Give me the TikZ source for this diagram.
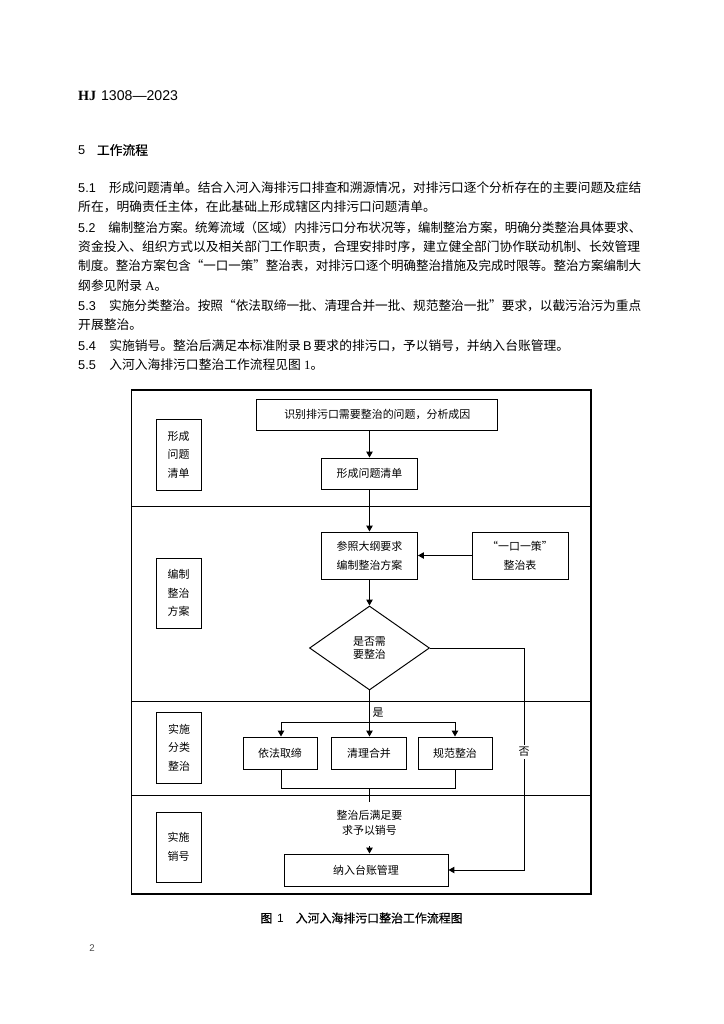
\documentclass[tikz,border=0pt]{standalone}
\usepackage{fontspec}
\usepackage{graphicx}
\setmainfont{Noto Sans CJK SC}
\newfontfamily\hjserif{Liberation Serif}
\newfontfamily\arial{Liberation Sans}
\newfontfamily\heiti[FakeBold=0.6]{Noto Sans CJK SC}
\usetikzlibrary{shapes.geometric,arrows.meta}
\XeTeXlinebreaklocale "zh"
\XeTeXlinebreakskip=0pt plus 3pt minus 2pt
\newdimen\pxu \pxu=0.82221pt
\newdimen\linew \linew=563\pxu
\def\pxl{0.82221pt}
\newsavebox\lbox
\newcommand\bodyfont{\fontsize{10.5pt}{12pt}\selectfont}
\newcommand\fcfont{\fontsize{9pt}{15.4pt}\selectfont}
\newcommand\fitline[1]{\sbox\lbox{#1}\ifdim\wd\lbox>\linew\resizebox{\linew}{\height}{\usebox\lbox}\else\makebox[\linew][s]{#1}\fi}
\newcommand\numline[2]{\fitline{{\arial #1}\hspace{11pt}#2}}
\newcommand\fullline[1]{\fitline{#1}}
\begin{document}
\begin{tikzpicture}[x=0.82221pt,y=-0.82221pt,
  txt/.style={anchor=west, inner sep=0pt, font=\bodyfont},
  box/.style={draw, line width=0.8pt, inner sep=0pt, align=center, font=\fcfont},
  lbl/.style={box, minimum width=45*\pxl, font=\fontsize{9pt}{15.2pt}\selectfont},
  frame/.style={line width=1.1pt},
  conn/.style={line width=0.8pt},
  arr/.style={conn, -{Triangle[length=4.8pt,width=5.2pt]}}]
\useasboundingbox (0,0) rectangle (724,1024);
% header
\node[anchor=west, inner sep=0pt, font=\fontsize{11.6pt}{13pt}\selectfont] (hdr) at (78,96)
  {{\hjserif\bfseries HJ}\hspace{4pt}{\arial 1308—2023}};
\node[anchor=west, inner sep=0pt, font=\bodyfont] (sec) at (78,150)
  {{\arial 5}\hspace{9.5pt}{\heiti 工作流程}};
% paragraphs
\node[txt] (p1) at (78,187.4) {\numline{5.1}{形成问题清单。结合入河入海排污口排查和溯源情况，对排污口逐个分析存在的主要问题及症结}};
\node[txt] (p2) at (78,206.8) {所在，明确责任主体，在此基础上形成辖区内排污口问题清单。};
\node[txt] (p3) at (78,227.3) {\numline{5.2}{编制整治方案。统筹流域（区域）内排污口分布状况等，编制整治方案，明确分类整治具体要求、}};
\node[txt] (p4) at (78,246.3) {\fullline{资金投入、组织方式以及相关部门工作职责，合理安排时序，建立健全部门协作联动机制、长效管理}};
\node[txt] (p5) at (78,266) {\fullline{制度。整治方案包含“一口一策”整治表，对排污口逐个明确整治措施及完成时限等。整治方案编制大}};
\node[txt] (p6) at (78,285.4) {纲参见附录{\hjserif\ A}。};
\node[txt] (p7) at (78,305.5) {\numline{5.3}{实施分类整治。按照“依法取缔一批、清理合并一批、规范整治一批”要求，以截污治污为重点}};
\node[txt] (p8) at (78,324.9) {开展整治。};
\node[txt] (p9) at (78,345.4) {{\arial 5.4}\hspace{11pt}实施销号。整治后满足本标准附录{\arial\,B\,}要求的排污口，予以销号，并纳入台账管理。};
\node[txt] (p10) at (78,364.3) {{\arial 5.5}\hspace{11pt}入河入海排污口整治工作流程见图{\hjserif\ 1}。};
% frame and lanes
\draw[frame] (131.7,390) rectangle (591,894);
\draw[frame] (131.7,506.7) -- (591,506.7);
\draw[frame] (131.7,701.7) -- (591,701.7);
\draw[frame] (131.7,795.7) -- (591,795.7);
% lane labels
\node[lbl, minimum height=71*\pxl] (L1) at (178.5,454.5) {形成\\问题\\清单};
\node[lbl, minimum height=70*\pxl] (L2) at (178.5,593) {编制\\整治\\方案};
\node[lbl, minimum height=71*\pxl] (L3) at (179,747.5) {实施\\分类\\整治};
\node[lbl, minimum height=70*\pxl] (L4) at (178.5,847) {实施\\销号};
% main boxes
\node[box, minimum width=241*\pxl, minimum height=31*\pxl] (n1) at (377.3,414.5) {识别排污口需要整治的问题，分析成因};
\node[box, minimum width=96*\pxl, minimum height=31*\pxl] (n2) at (369.5,473.5) {形成问题清单};
\node[box, minimum width=96*\pxl, minimum height=47*\pxl] (n3) at (369.5,555.5) {参照大纲要求\\编制整治方案};
\node[box, minimum width=96*\pxl, minimum height=47*\pxl] (n4) at (520,555.5) {“一口一策”\\整治表};
\node[diamond, draw, line width=0.8pt, inner sep=0pt, minimum width=120*\pxl, minimum height=84*\pxl,
  align=center, font=\fontsize{9pt}{11pt}\selectfont] (d) at (369.5,648) {是否需\\要整治};
\node[box, minimum width=74*\pxl, minimum height=32*\pxl] (b1) at (280,753) {依法取缔};
\node[box, minimum width=75*\pxl, minimum height=32*\pxl] (b2) at (369,753) {清理合并};
\node[box, minimum width=74*\pxl, minimum height=32*\pxl] (b3) at (455,753) {规范整治};
\node[box, minimum width=164*\pxl, minimum height=32*\pxl] (n5) at (366,870) {纳入台账管理};
\node[inner sep=0pt, align=center, font=\fontsize{9pt}{12.3pt}\selectfont] (m) at (369.5,822.5) {整治后满足要\\求予以销号};
% connectors
\draw[arr] (n1.south -| n2) -- (n2);
\draw[arr] (n2) -- (n3);
\draw[arr] (n4) -- (n3);
\draw[arr] (n3) -- (d);
\coordinate (j) at (369.5,722);
\coordinate (jl) at (281,722);
\coordinate (jr) at (455,722);
\draw[conn] (d.south) -- (j);
\draw[conn] (jl) -- (jr);
\draw[arr] (jl) -- (jl |- b1.north);
\draw[arr] (j) -- (j |- b2.north);
\draw[arr] (jr) -- (jr |- b3.north);
\node[anchor=west, inner sep=0pt, font=\fcfont] (yes) at (372.5,713) {是};
\coordinate (kl) at (281,788);
\coordinate (kr) at (455,788);
\coordinate (k) at (369.5,788);
\coordinate (t1) at (369.5,802);
\coordinate (t2) at (369.5,846);
\draw[conn] (b1.south -| kl) -- (kl) -- (kr) -- (b3.south -| kr);
\draw[conn] (k) -- (t1);
\draw[arr] (t2) -- (t2 |- n5.north);
\coordinate (c1) at (524,648);
\coordinate (c2) at (524,870);
\draw[arr] (d.east) -- (c1) -- (c2) -- (n5.east);
\node[fill=white, inner sep=2pt, font=\fcfont] (no) at (524,752) {否};
% caption and page number
\node[font=\fontsize{9.8pt}{12pt}\selectfont] (cap) at (361.5,918) {\heiti 图\hspace{4pt}{\arial 1}\hspace{1em}入河入海排污口整治工作流程图};
\node[font=\fontsize{8pt}{9pt}\selectfont\arial, text=black!70] (pg) at (92,948) {2};
\end{tikzpicture}
\end{document}
